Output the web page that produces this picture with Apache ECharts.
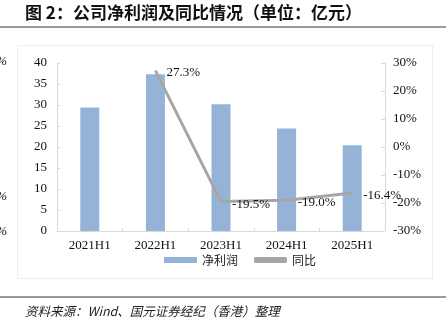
<!DOCTYPE html>
<html><head><meta charset="utf-8">
<script src="https://cdn.jsdelivr.net/npm/echarts@6/dist/echarts.min.js"></script>
<style>html,body{margin:0;padding:0;background:#fff}#c{width:446px;height:328px}</style>
</head><body><div id="c"></div>
<script>
var categories = ['2021H1', '2022H1', '2023H1', '2024H1', '2025H1'];
var netProfit = [29.4, 37.3, 30.2, 24.4, 20.4];
var yoy = [null, 27.3, -19.5, -19.0, -16.4];
var leftTicks = {min: 0, max: 40, interval: 5};
var rightTicks = {min: -30, max: 30, interval: 10};
var titleText = '图 2：公司净利润及同比情况（单位：亿元）';
var sourceText = '资料来源：Wind、国元证券经纪（香港）整理';

var serif = '"Liberation Serif", "Times New Roman", serif';
var chart = echarts.init(document.getElementById('c'), null, {renderer: 'canvas'});
var axisLine = {show: true, lineStyle: {color: '#d9d9d9', width: 1}};
chart.setOption({
  animation: false,
  backgroundColor: '#fff',
  grid: {left: 57, right: 61, top: 63, bottom: 97, containLabel: false},
  legend: {
    bottom: 57, left: 159,
    itemWidth: 33, itemHeight: 6, itemGap: 16,
    textStyle: {fontFamily: '"Noto Sans CJK SC"', fontSize: 12, color: '#222'},
    data: [{name: '净利润', icon: 'rect'}, {name: '同比', icon: 'roundRect', itemStyle: {color: '#A6A6A6'}}]
  },
  xAxis: {
    type: 'category', data: categories,
    axisLine: axisLine,
    axisTick: {show: true, inside: true, length: 3, lineStyle: {color: '#d9d9d9'}},
    axisLabel: {fontFamily: serif, fontSize: 13, color: '#111', margin: 8}
  },
  yAxis: [{
    type: 'value', min: leftTicks.min, max: leftTicks.max, interval: leftTicks.interval,
    axisLine: axisLine, splitLine: {show: false},
    axisTick: {show: true, inside: true, length: 3, lineStyle: {color: '#d9d9d9'}},
    axisLabel: {fontFamily: serif, fontSize: 13, color: '#111', margin: 10}
  }, {
    type: 'value', min: rightTicks.min, max: rightTicks.max, interval: rightTicks.interval,
    position: 'right',
    axisLine: axisLine, splitLine: {show: false},
    axisTick: {show: true, inside: true, length: 4, lineStyle: {color: '#d9d9d9'}},
    axisLabel: {fontFamily: serif, fontSize: 13, color: '#111', margin: 8, formatter: '{value}%'}
  }],
  series: [{
    name: '净利润', type: 'bar', data: netProfit, barWidth: 19, yAxisIndex: 0,
    itemStyle: {color: '#95B3D7'}
  }, {
    name: '同比', type: 'line', data: yoy, yAxisIndex: 1,
    symbol: 'circle', symbolSize: 0.1, showSymbol: true, connectNulls: false,
    lineStyle: {color: '#A6A6A6', width: 3},
    itemStyle: {color: '#A6A6A6'},
    label: {
      show: true, position: 'right', distance: 11, offset: [0, 2.5],
      fontFamily: serif, fontSize: 13, color: '#111',
      formatter: function (p) { return p.value == null ? '' : p.value.toFixed(1) + '%'; }
    },
    z: 3
  }],
  graphic: [
    {type: 'text', left: 25, top: 4, style: {text: titleText, fontFamily: '"Noto Sans CJK SC"', fontWeight: 'bold', fontSize: 17, fill: '#111'}},
    {type: 'line', shape: {x1: 0, y1: 27, x2: 446, y2: 27}, style: {stroke: '#333', lineWidth: 1}},
    {type: 'rect', shape: {x: 17.5, y: 45.5, width: 415, height: 233}, style: {stroke: '#eeeeee', fill: null, lineWidth: 1}, z: -1},
    {type: 'line', shape: {x1: 0, y1: 297, x2: 446, y2: 297}, style: {stroke: '#333', lineWidth: 1}},
    {type: 'text', left: 25, top: 305, style: {text: sourceText, fontFamily: '"Noto Sans CJK SC"', fontStyle: 'italic', fontSize: 12.5, fill: '#222'}},
    {type: 'text', x: 7, y: 62, style: {text: '%', align: 'right', verticalAlign: 'middle', fontFamily: serif, fontStyle: 'italic', fontSize: 13, fill: '#111'}},
    {type: 'text', x: 7, y: 197, style: {text: '%', align: 'right', verticalAlign: 'middle', fontFamily: serif, fontStyle: 'italic', fontSize: 13, fill: '#111'}},
    {type: 'text', x: 7, y: 232, style: {text: '%', align: 'right', verticalAlign: 'middle', fontFamily: serif, fontStyle: 'italic', fontSize: 13, fill: '#111'}}
  ]
});
</script></body></html>
